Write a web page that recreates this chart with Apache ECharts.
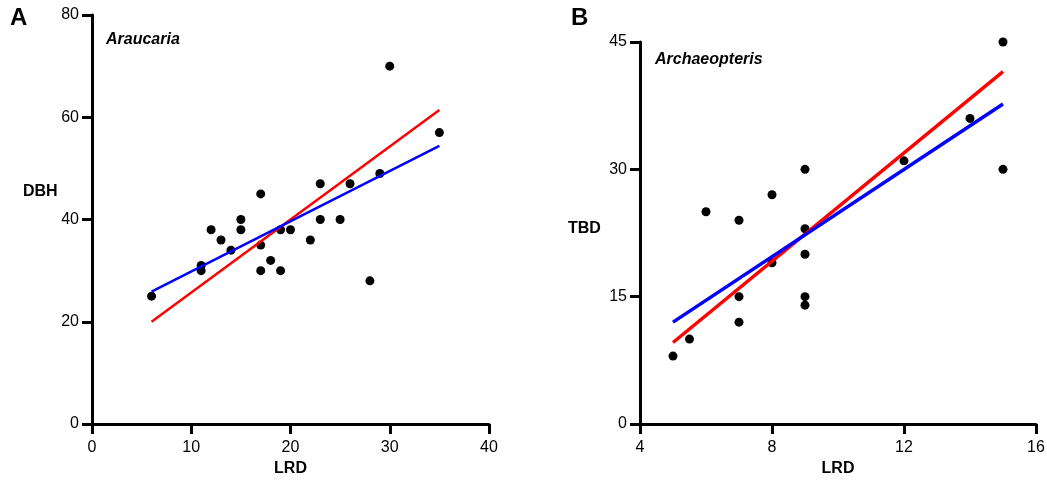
<!DOCTYPE html>
<html>
<head>
<meta charset="utf-8">
<script src="https://cdn.jsdelivr.net/npm/echarts@6/dist/echarts.min.js"></script>
<style>
html,body{margin:0;padding:0;background:#fff;}
#c{width:1047px;height:482px;}
</style>
</head>
<body>
<div id="c"></div>
<script>
// Panel A: Araucaria (LRD vs DBH)
const araucariaPoints = [
  [6,25],[11,31],[11,30],[12,38],[13,36],[14,34],[15,40],[15,38],
  [17,45],[17,35],[17,30],[18,32],[19,30],[19,38],[20,38],[22,36],
  [23,47],[23,40],[25,40],[26,47],[28,28],[29,49],[30,70],[35,57]
];
const araucariaRed = [[6,20],[35,61.4]];
const araucariaBlue = [[6,25.9],[35,54.4]];

// Panel B: Archaeopteris (LRD vs TBD)
const archaeopterisPoints = [
  [5,8],[5.5,10],[6,25],[7,24],[7,15],[7,12],[8,27],[8,19],
  [9,30],[9,23],[9,20],[9,15],[9,14],[12,31],[14,36],[15,45],[15,30]
];
const archaeopterisRed = [[5,9.6],[15,41.5]];
const archaeopterisBlue = [[5,12],[15,37.7]];

const font = '"Liberation Sans", Arial, Helvetica, sans-serif';

function xAxis(idx, min, max, interval, gap) {
  return {
    type: 'value', gridIndex: idx, min: min, max: max, interval: interval,
    name: 'LRD', nameLocation: 'middle', nameGap: gap,
    nameTextStyle: {fontFamily: font, fontWeight: 'bold', fontSize: 16, color: '#000'},
    axisLine: {show: true, onZero: false, lineStyle: {color: '#000', width: 3}},
    axisTick: {show: true, inside: false, length: 10, lineStyle: {color: '#000', width: 3}},
    axisLabel: {fontFamily: font, fontSize: 16, color: '#000', margin: 16},
    splitLine: {show: false}
  };
}
function yAxis(idx, min, max, interval) {
  return {
    type: 'value', gridIndex: idx, min: min, max: max, interval: interval,
    axisLine: {show: true, onZero: false, lineStyle: {color: '#000', width: 3}},
    axisTick: {show: true, inside: false, length: 10, lineStyle: {color: '#000', width: 3}},
    axisLabel: {fontFamily: font, fontSize: 16, color: '#000', margin: 13},
    splitLine: {show: false}
  };
}

const chart = echarts.init(document.getElementById('c'));
chart.setOption({
  backgroundColor: '#fff',
  animation: false,
  grid: [
    {left: 92, top: 15, width: 397, height: 409, outerBoundsMode: 'none', containLabel: false},
    {left: 640, top: 42, width: 396, height: 382, outerBoundsMode: 'none', containLabel: false}
  ],
  xAxis: [xAxis(0, 0, 40, 10, 36), xAxis(1, 4, 16, 4, 37)],
  yAxis: [yAxis(0, 0, 80, 20), yAxis(1, 0, 45, 15)],
  graphic: [
    {type: 'text', left: 10, top: 6, style: {text: 'A', font: 'bold 24px ' + font, fill: '#000'}},
    {type: 'text', left: 571, top: 6, style: {text: 'B', font: 'bold 24px ' + font, fill: '#000'}},
    {type: 'text', left: 106, top: 32, style: {text: 'Araucaria', font: 'italic bold 16px ' + font, fill: '#000'}},
    {type: 'text', left: 655, top: 52, style: {text: 'Archaeopteris', font: 'italic bold 16px ' + font, fill: '#000'}},
    {type: 'text', left: 23, top: 184, style: {text: 'DBH', font: 'bold 16px ' + font, fill: '#000'}},
    {type: 'text', left: 568, top: 221, style: {text: 'TBD', font: 'bold 16px ' + font, fill: '#000'}}
  ],
  series: [
    {type: 'scatter', xAxisIndex: 0, yAxisIndex: 0, data: araucariaPoints, symbolSize: 9,
      itemStyle: {color: '#000', opacity: 1}, z: 2},
    {type: 'line', xAxisIndex: 0, yAxisIndex: 0, data: araucariaRed, showSymbol: false,
      lineStyle: {color: '#ff0000', width: 2.5}, z: 3},
    {type: 'line', xAxisIndex: 0, yAxisIndex: 0, data: araucariaBlue, showSymbol: false,
      lineStyle: {color: '#0000ff', width: 2.5}, z: 4},
    {type: 'scatter', xAxisIndex: 1, yAxisIndex: 1, data: archaeopterisPoints, symbolSize: 9,
      itemStyle: {color: '#000', opacity: 1}, z: 2},
    {type: 'line', xAxisIndex: 1, yAxisIndex: 1, data: archaeopterisRed, showSymbol: false,
      lineStyle: {color: '#ff0000', width: 3.5}, z: 3},
    {type: 'line', xAxisIndex: 1, yAxisIndex: 1, data: archaeopterisBlue, showSymbol: false,
      lineStyle: {color: '#0000ff', width: 3.5}, z: 4}
  ]
});
</script>
</body>
</html>
